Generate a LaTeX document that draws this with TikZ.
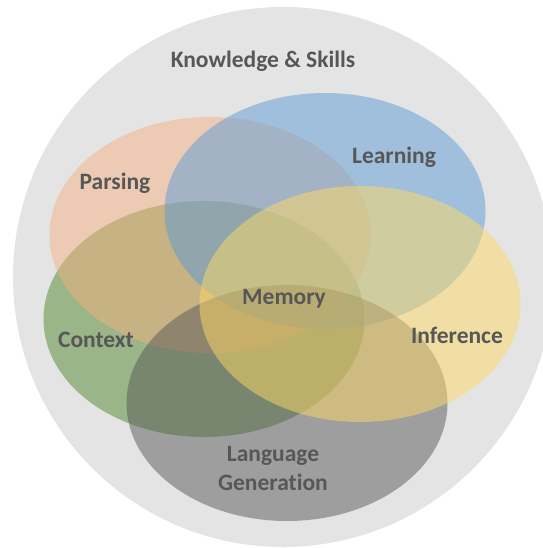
\documentclass[tikz,border=0pt]{standalone}
\usepackage{fontspec}
\setmainfont{Carlito}[Ligatures=NoCommon]
\usetikzlibrary{shapes.geometric}
\definecolor{bgc}{HTML}{E4E4E4}
\definecolor{cpars}{HTML}{F4B183}
\definecolor{clearn}{HTML}{5B9BD5}
\definecolor{cinfer}{HTML}{FFD966}
\definecolor{cctx}{RGB}{82,136,44}
\definecolor{cgen}{HTML}{595959}
\definecolor{txt}{HTML}{575757}
\tikzset{
  blob/.style={ellipse, draw=none, inner sep=0pt, minimum width=321bp, minimum height=236bp, fill=#1, fill opacity=0.5},
  lbl/.style={text=txt, font=\fontsize{23.5bp}{29bp}\selectfont\bfseries, align=center, inner sep=0pt}
}
\begin{document}
\begin{tikzpicture}[x=1bp,y=-1bp]
\useasboundingbox (0,0) rectangle (543,548);
\clip (0,0) rectangle (543,548);
\node[circle, fill=bgc, draw=none, inner sep=0pt, minimum size=540bp] (outer) at (283,277) {};
\node[blob=cctx] (context) at (204,319) {};
\node[blob=cpars] (parsing) at (210,235) {};
\node[blob=clearn] (learning) at (325,211) {};
\node[blob=cgen] (generation) at (287,403) {};
\node[blob=cinfer] (inference) at (360,304) {};
\node[lbl] (tks) at (263,61) {Knowledge \& Skills};
\node[lbl] (tpars) at (115,183) {Parsing};
\node[lbl] (tlearn) at (394,157) {Learning};
\node[lbl] (tmem) at (284,299) {Memory};
\node[lbl] (tctx) at (96,340) {Context};
\node[lbl] (tinf) at (457,335) {Inference};
\node[lbl] (tgen) at (273,468) {Language\\Generation};
\end{tikzpicture}
\end{document}
